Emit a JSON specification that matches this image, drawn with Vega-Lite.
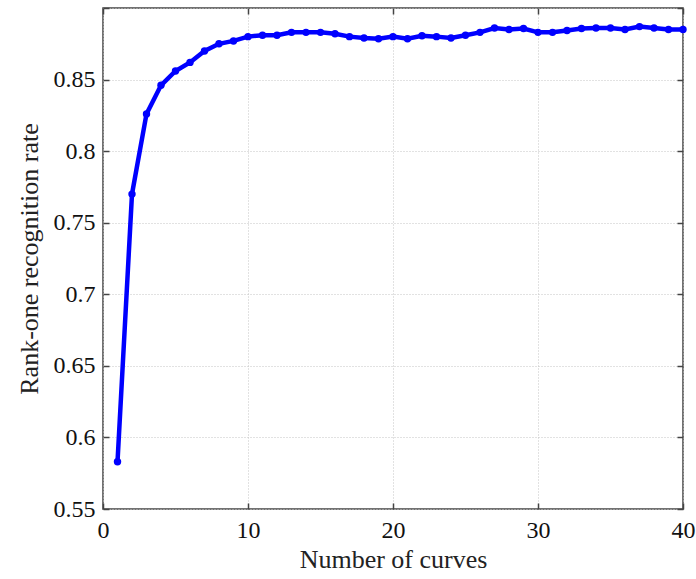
{
  "$schema": "https://vega.github.io/schema/vega-lite/v6.json",
  "width": 580,
  "height": 501,
  "autosize": {"type": "none"},
  "padding": {"left": 103, "top": 8, "right": 13, "bottom": 70},
  "background": "white",
  "config": {
    "font": "Liberation Serif",
    "view": {"stroke": "#444444", "strokeWidth": 1.5},
    "axis": {
      "labelFont": "Liberation Serif",
      "titleFont": "Liberation Serif",
      "labelFontSize": 24,
      "titleFontSize": 26,
      "labelColor": "#111111",
      "titleColor": "#222222",
      "titleFontWeight": "normal",
      "labelFlush": false,
      "labelOverlap": false,
      "domain": false,
      "tickColor": "#444444",
      "tickSize": -6,
      "tickWidth": 1.5,
      "gridColor": "#c4c4c4",
      "gridDash": [1, 2],
      "gridWidth": 1
    }
  },
  "data": {
    "values": [
      {"n": 1, "r": 0.583}, {"n": 2, "r": 0.770}, {"n": 3, "r": 0.826}, {"n": 4, "r": 0.846},
      {"n": 5, "r": 0.856}, {"n": 6, "r": 0.862}, {"n": 7, "r": 0.870}, {"n": 8, "r": 0.875},
      {"n": 9, "r": 0.877}, {"n": 10, "r": 0.880}, {"n": 11, "r": 0.881}, {"n": 12, "r": 0.881},
      {"n": 13, "r": 0.883}, {"n": 14, "r": 0.883}, {"n": 15, "r": 0.883}, {"n": 16, "r": 0.882},
      {"n": 17, "r": 0.880}, {"n": 18, "r": 0.879}, {"n": 19, "r": 0.8785}, {"n": 20, "r": 0.880},
      {"n": 21, "r": 0.8785}, {"n": 22, "r": 0.8806}, {"n": 23, "r": 0.880}, {"n": 24, "r": 0.879},
      {"n": 25, "r": 0.881}, {"n": 26, "r": 0.883}, {"n": 27, "r": 0.886}, {"n": 28, "r": 0.885},
      {"n": 29, "r": 0.8857}, {"n": 30, "r": 0.883}, {"n": 31, "r": 0.883}, {"n": 32, "r": 0.8843},
      {"n": 33, "r": 0.8857}, {"n": 34, "r": 0.886}, {"n": 35, "r": 0.886}, {"n": 36, "r": 0.885},
      {"n": 37, "r": 0.887}, {"n": 38, "r": 0.886}, {"n": 39, "r": 0.885}, {"n": 40, "r": 0.885}
    ]
  },
  "layer": [
    {
      "mark": {"type": "line", "color": "#0000ff", "strokeWidth": 4.5, "point": {"filled": true, "color": "#0000ff", "size": 55}},
      "encoding": {
        "x": {
          "field": "n", "type": "quantitative",
          "scale": {"domain": [0, 40], "nice": false, "zero": false},
          "axis": {"values": [0, 10, 20, 30, 40], "title": "Number of curves", "labelFont": "Liberation Serif", "titleFont": "Liberation Serif", "labelFlush": false, "labelPadding": 15, "titlePadding": 4, "orient": "bottom"}
        },
        "y": {
          "field": "r", "type": "quantitative",
          "scale": {"domain": [0.55, 0.9], "nice": false, "zero": false},
          "axis": {"values": [0.55, 0.6, 0.65, 0.7, 0.75, 0.8, 0.85, 0.9], "format": ".2~f", "title": "Rank-one recognition rate", "labelFont": "Liberation Serif", "titleFont": "Liberation Serif", "labelFlush": false, "labelPadding": 14, "titlePadding": 11, "orient": "left", "labelExpr": "datum.value == 0.9 ? '' : datum.label"}
        }
      }
    },
    {
      "mark": {"type": "point", "opacity": 0},
      "encoding": {
        "x": {
          "field": "n", "type": "quantitative",
          "scale": {"domain": [0, 40], "nice": false, "zero": false},
          "axis": {"orient": "top", "values": [0, 10, 20, 30, 40], "labels": false, "grid": false, "title": null}
        },
        "y": {
          "field": "r", "type": "quantitative",
          "scale": {"domain": [0.55, 0.9], "nice": false, "zero": false},
          "axis": {"orient": "right", "values": [0.55, 0.6, 0.65, 0.7, 0.75, 0.8, 0.85, 0.9], "labels": false, "grid": false, "title": null}
        }
      }
    }
  ],
  "resolve": {"axis": {"x": "independent", "y": "independent"}}
}
